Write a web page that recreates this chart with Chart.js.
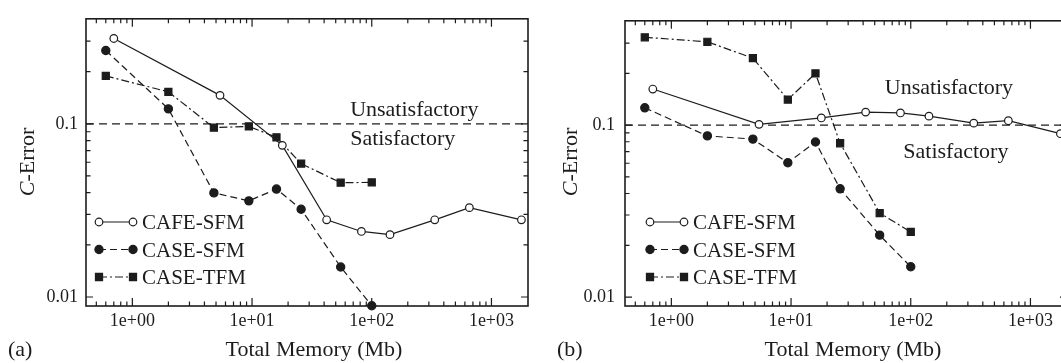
<!DOCTYPE html>
<html>
<head>
<meta charset="utf-8">
<title>C-Error vs total memory</title>
<script src="https://cdn.jsdelivr.net/npm/chart.js@4.4.1/dist/chart.umd.min.js"></script>
<style>
  html, body { margin: 0; padding: 0; background: #fff; }
  body { width: 1061px; height: 363px; overflow: hidden; position: relative; }
  .panel { position: absolute; top: 0; width: 540px; height: 363px; }
  #panelA { left: 0; }
  #panelB { left: 539px; }
</style>
</head>
<body>
<div class="panel" id="panelA"><canvas id="chartA" width="540" height="363"></canvas></div>
<div class="panel" id="panelB"><canvas id="chartB" width="540" height="363"></canvas></div>
<script>
// total memory (Mb) of each run
const cafeMemory = [0.7, 5.4, 17.9, 42, 82, 142, 336, 654, 1780];
const caseMemory = [0.6, 2.0, 4.8, 9.4, 16, 25.7, 55, 100];

// C-Error, panel (a)
const cafeSfmA = [0.311, 0.146, 0.0751, 0.0279, 0.0239, 0.0229, 0.0279, 0.0328, 0.0279];
const caseSfmA = [0.265, 0.122, 0.0399, 0.0359, 0.042, 0.0321, 0.0149, 0.0089];
const caseTfmA = [0.189, 0.153, 0.095, 0.0966, 0.0836, 0.0589, 0.0457, 0.0459];

// C-Error, panel (b)
const cafeSfmB = [0.162, 0.101, 0.110, 0.119, 0.1176, 0.1127, 0.1026, 0.106, 0.0891];
const caseSfmB = [0.126, 0.0865, 0.0829, 0.0604, 0.0797, 0.0426, 0.0229, 0.0150];
const caseTfmB = [0.324, 0.305, 0.245, 0.1407, 0.1998, 0.0784, 0.0308, 0.0239];

const seriesNames = ['CAFE-SFM', 'CASE-SFM', 'CASE-TFM'];
const threshold = 0.1;   // satisfactory / unsatisfactory limit

// labelled ticks
const xTickValues = [1, 10, 100, 1000];
const xTickLabels = ['1e+00', '1e+01', '1e+02', '1e+03'];
const yTickValues = [0.01, 0.1];
const yTickLabels = ['0.01', '0.1'];

const xMin = 0.41, xMax = 2020;
const yMin = 0.00887, yMax = 0.404;

const ink = '#1c1c1c';
const serif = '"Liberation Serif", "Times New Roman", serif';

const seriesStyles = [
    { pointStyle: 'circle', pointRadius: 3.8, pointBackgroundColor: '#fff', borderDash: [] },
    { pointStyle: 'circle', pointRadius: 4.1, pointBackgroundColor: ink, borderDash: [7, 4] },
    { pointStyle: 'rect', pointRadius: 5, pointBackgroundColor: ink, borderDash: [8, 3, 2, 3] }
];

function pairs(xs, ys) {
    return xs.map((x, i) => ({ x: x, y: ys[i] }));
}

function isDecade(v) {
    return Math.abs(Math.log10(v) - Math.round(Math.log10(v))) < 1e-9;
}

function labelFor(values, labels) {
    return function (v) {
        const i = values.findIndex(t => Math.abs(t - v) / t < 1e-9);
        return i >= 0 ? labels[i] : '';
    };
}

// frame with short inward tick marks on all four sides
const innerTicks = {
    id: 'innerTicks',
    beforeDatasetsDraw(chart) {
        const { ctx, chartArea: a } = chart;
        ctx.save();
        ctx.strokeStyle = ink;
        ctx.lineWidth = 1.2;
        const marks = (scale, draw) => {
            scale.ticks.forEach(t => {
                const v = t.value;
                const e = Math.floor(Math.log10(v) + 1e-9);
                const m = v / Math.pow(10, e);
                if (Math.abs(m - Math.round(m)) > 1e-6) return;
                const p = scale.getPixelForValue(v);
                draw(p, Math.round(m) === 1 || Math.round(m) === 10);
            });
        };
        ctx.beginPath();
        marks(chart.scales.x, (p, major) => {
            if (p < a.left + 2 || p > a.right - 2) return;
            const len = major ? 8 : 4.5;
            ctx.moveTo(p, a.bottom); ctx.lineTo(p, a.bottom - len);
            ctx.moveTo(p, a.top); ctx.lineTo(p, a.top + len);
        });
        marks(chart.scales.y, (p, major) => {
            if (p < a.top + 2 || p > a.bottom - 2) return;
            const len = major ? 7 : 4.5;
            ctx.moveTo(a.left, p); ctx.lineTo(a.left + len, p);
            ctx.moveTo(a.right, p); ctx.lineTo(a.right - len, p);
        });
        ctx.stroke();
        ctx.lineWidth = 1.6;
        ctx.strokeRect(a.left, a.top, a.right - a.left, a.bottom - a.top);
        ctx.restore();
    }
};

// axis titles, panel tag, region notes and the legend
const figureText = {
    id: 'figureText',
    afterDraw(chart, args, opts) {
        const { ctx } = chart;
        const xs = chart.scales.x, ys = chart.scales.y;
        ctx.save();
        ctx.fillStyle = ink;
        ctx.textBaseline = 'alphabetic';

        // y title with italic C
        ctx.translate(opts.yTitleX, opts.yTitleY);
        ctx.rotate(-Math.PI / 2);
        ctx.font = 'italic 22px ' + serif;
        const wc = ctx.measureText('C').width;
        ctx.font = '22px ' + serif;
        const wr = ctx.measureText('-Error').width;
        const start = -(wc + wr) / 2;
        ctx.font = 'italic 22px ' + serif;
        ctx.textAlign = 'left';
        ctx.fillText('C', start, 0);
        ctx.font = '22px ' + serif;
        ctx.fillText('-Error', start + wc, 0);
        ctx.setTransform(1, 0, 0, 1, 0, 0);

        ctx.font = '22px ' + serif;
        ctx.textAlign = 'center';
        ctx.fillText('Total Memory (Mb)', opts.xTitleX, opts.xTitleY);
        ctx.textAlign = 'left';
        ctx.fillText(opts.tag, opts.tagX, opts.xTitleY);

        opts.notes.forEach(n => {
            ctx.fillText(n.text, xs.getPixelForValue(n.x), ys.getPixelForValue(n.y));
        });

        // legend: line with a marker at each end
        ctx.font = '21px ' + serif;
        seriesNames.forEach((name, i) => {
            const st = seriesStyles[i];
            const y = opts.legendTop + i * opts.legendGap;
            const x1 = opts.legendX, x2 = opts.legendX + 34;
            ctx.strokeStyle = ink;
            ctx.lineWidth = 1.2;
            ctx.setLineDash(st.borderDash);
            ctx.beginPath();
            ctx.moveTo(x1, y); ctx.lineTo(x2, y);
            ctx.stroke();
            ctx.setLineDash([]);
            [x1, x2].forEach(px => {
                ctx.fillStyle = st.pointBackgroundColor;
                Chart.helpers.drawPoint(ctx, {
                    pointStyle: st.pointStyle, radius: st.pointRadius, rotation: 0, borderWidth: 1.2
                }, px, y);
            });
            ctx.fillStyle = ink;
            ctx.fillText(name, x2 + 9, y + 7);
        });
        ctx.restore();
    }
};

function makeChart(id, cafe, caseS, caseT, extras) {
    const seriesData = [pairs(cafeMemory, cafe), pairs(caseMemory, caseS), pairs(caseMemory, caseT)];
    const datasets = seriesData.map((d, i) => Object.assign({
        label: seriesNames[i],
        data: d,
        borderColor: ink,
        pointBorderColor: ink,
        borderWidth: 1.2,
        pointBorderWidth: 1.2,
        pointHoverRadius: 4,
        clip: false,
        order: 1
    }, seriesStyles[i]));
    datasets.push({
        label: 'threshold',
        data: [{ x: xMin, y: threshold }, { x: xMax, y: threshold }],
        borderColor: ink,
        borderWidth: 1.2,
        borderDash: [8, 5],
        pointRadius: 0,
        order: 2
    });

    return new Chart(document.getElementById(id), {
        type: 'line',
        data: { datasets: datasets },
        options: {
            responsive: false,
            animation: false,
            events: [],
            layout: { padding: { top: 10, right: 12, bottom: 0, left: 0 } },
            scales: {
                x: {
                    type: 'logarithmic',
                    min: xMin, max: xMax,
                    afterFit: s => { s.height = 57; },
                    grid: { display: false, drawTicks: false },
                    border: { display: false },
                    ticks: {
                        autoSkip: false, maxRotation: 0, padding: 4,
                        color: ink, font: { family: serif, size: 18 },
                        callback: labelFor(xTickValues, xTickLabels)
                    }
                },
                y: {
                    type: 'logarithmic',
                    min: yMin, max: yMax,
                    afterFit: s => { s.width = 86; },
                    grid: { display: false, drawTicks: false },
                    border: { display: false },
                    ticks: {
                        autoSkip: false, padding: extras.yTickPad,
                        color: ink, font: { family: serif, size: 18 },
                        callback: labelFor(yTickValues, yTickLabels)
                    }
                }
            },
            plugins: {
                legend: { display: false },
                tooltip: { enabled: false },
                figureText: extras
            }
        },
        plugins: [innerTicks, figureText]
    });
}

makeChart('chartA', cafeSfmA, caseSfmA, caseTfmA, {
    tag: '(a)', tagX: 8, yTitleX: 34, yTitleY: 162, xTitleX: 314, xTitleY: 356, yTickPad: 8,
    legendX: 99, legendTop: 222, legendGap: 27.5,
    notes: [
        { text: 'Unsatisfactory', x: 66, y: 0.111 },
        { text: 'Satisfactory', x: 66, y: 0.0756 }
    ]
});

makeChart('chartB', cafeSfmB, caseSfmB, caseTfmB, {
    tag: '(b)', tagX: 18, yTitleX: 38, yTitleY: 162, xTitleX: 314, xTitleY: 356, yTickPad: 10,
    legendX: 111, legendTop: 222, legendGap: 27.5,
    notes: [
        { text: 'Unsatisfactory', x: 60.7, y: 0.152 },
        { text: 'Satisfactory', x: 86.7, y: 0.064 }
    ]
});
</script>
</body>
</html>
